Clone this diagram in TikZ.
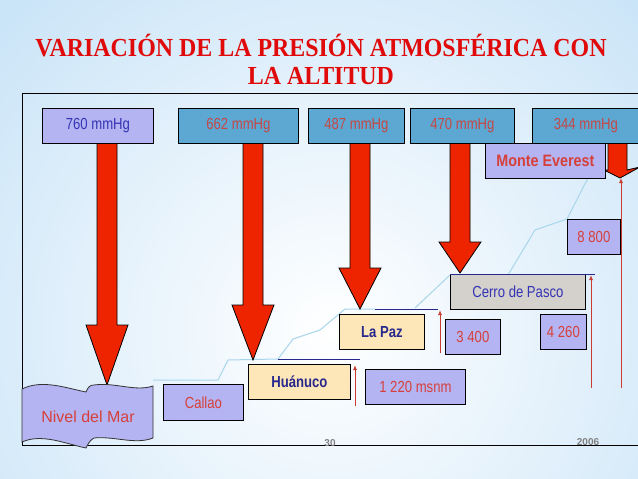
\documentclass[tikz,border=0pt]{standalone}
\usepackage{fontspec}
\setmainfont{Liberation Sans}
\newfontfamily\narrowfont{Liberation Sans}[FakeStretch=0.82]
\newfontfamily\semifont{Liberation Sans}[FakeStretch=0.87]
\newfontfamily\titlefont{Liberation Serif}[FakeStretch=0.92]
\usetikzlibrary{arrows.meta}
\definecolor{bgblue}{RGB}{162,208,242}
\definecolor{titlered}{RGB}{224,10,10}
\definecolor{lav}{RGB}{180,180,242}
\definecolor{steel}{RGB}{92,168,210}
\definecolor{peach}{RGB}{253,231,184}
\definecolor{cerrogray}{RGB}{212,208,204}
\definecolor{txtred}{RGB}{214,64,58}
\definecolor{mutedred}{RGB}{196,72,70}
\definecolor{txtblue}{RGB}{52,52,180}
\definecolor{darkblue}{RGB}{40,40,140}
\definecolor{arrowred}{RGB}{238,36,0}
\definecolor{thinred}{RGB}{200,60,50}
\definecolor{mount}{RGB}{168,214,236}
\definecolor{labgray}{RGB}{128,128,128}
\tikzset{
  titlestyle/.style={font=\titlefont\bfseries\fontsize{26}{30}\selectfont, text=titlered, inner sep=0pt},
  boxstyle/.style={draw=black, line width=0.8pt, anchor=north west, inner sep=0pt, minimum height=35pt, font=\narrowfont\fontsize{16}{18}\selectfont},
  lavbox/.style={boxstyle, fill=lav},
  steelbox/.style={boxstyle, fill=steel, text=mutedred},
  peachbox/.style={boxstyle, fill=peach, text=darkblue, font=\narrowfont\bfseries\fontsize{16}{18}\selectfont},
  bigarrow/.style={fill=arrowred, draw=black, line width=0.8pt, line join=miter},
  thinarrow/.style={draw=thinred, line width=0.9pt, -{Latex[length=5pt,width=4pt]}},
  mountline/.style={draw=mount, line width=1pt},
  levelline/.style={draw=darkblue, line width=1pt},
  smalllab/.style={text=labgray, font=\bfseries\fontsize{10}{11}\selectfont, inner sep=0pt}
}
\begin{document}
\begin{tikzpicture}[x=1pt,y=-1pt]
\useasboundingbox (0,0) rectangle (638,479);
\clip (0,0) rectangle (638,479);
\shade[inner color=white, outer color=bgblue] (-470,-470) rectangle (1130,1130);

% title
\node[titlestyle] (t1) at (321,46) {VARIACIÓN DE LA PRESIÓN ATMOSFÉRICA CON};
\node[titlestyle] (t2) at (321,76) {LA ALTITUD};

% frame
\draw[line width=1pt] (22,93) rectangle (700,445);

% mountain profile
\draw[mountline] (153,380) -- (218,380) -- (228,360) -- (278,359) -- (293,339) -- (320,330) -- (345,309) -- (375,309);
\draw[mountline] (415,308) -- (450,275);
\draw[mountline] (508,275) -- (535,230) -- (567,219) -- (588,178);

% big arrows
\draw[bigarrow] (97,143) -- (117,143) -- (117,325) -- (128,325) -- (107,385) -- (86,325) -- (97,325) -- cycle;
\draw[bigarrow] (243,143) -- (263,143) -- (263,305) -- (274,305) -- (253,360) -- (232,305) -- (243,305) -- cycle;
\draw[bigarrow] (350,143) -- (370,143) -- (370,268) -- (381,268) -- (360,309) -- (339,268) -- (350,268) -- cycle;
\draw[bigarrow] (450,143) -- (470,143) -- (470,242) -- (481,242) -- (460,273) -- (439,242) -- (450,242) -- cycle;
\draw[bigarrow] (608,143) -- (627,143) -- (627,170) -- (640,167) -- (620,178) -- (604,170) -- (608,170) -- cycle;

% top pressure boxes
\node[lavbox, text=txtblue, minimum width=111pt] (p760) at (42,108) {760 mmHg};
\node[steelbox, minimum width=120pt] (p662) at (178,108) {662 mmHg};
\node[steelbox, minimum width=96pt] (p487) at (308,108) {487 mmHg};
\node[steelbox, minimum width=104pt] (p470) at (410,108) {470 mmHg};
\node[steelbox, minimum width=107pt] (p344) at (532,108) {344 mmHg};

% places and heights
\node[lavbox, text=txtred, minimum width=120pt, font=\semifont\bfseries\fontsize{16.5}{18}\selectfont] (everest) at (485,143) {Monte Everest};
\node[lavbox, text=txtred, minimum width=53pt] (h8800) at (567,219) {8 800};
\node[boxstyle, fill=cerrogray, text=txtblue, minimum width=135pt] (cerro) at (450,274) {Cerro de Pasco};
\node[peachbox, minimum width=85pt] (lapaz) at (339,314) {La Paz};
\node[lavbox, text=txtred, minimum width=55pt] (h3400) at (445,319) {3 400};
\node[lavbox, text=txtred, minimum width=46pt] (h4260) at (540,314) {4 260};
\node[peachbox, minimum width=102pt] (huanuco) at (248,364) {Huánuco};
\node[lavbox, text=txtred, minimum width=100pt] (h1220) at (365,369) {1 220 msnm};
\node[lavbox, text=txtred, minimum width=80pt, minimum height=36pt] (callao) at (163,384) {Callao};

% level lines
\draw[levelline] (278,359) -- (360,359);
\draw[levelline] (375,309) -- (438,309);
\draw[levelline] (cerro.north west) -- (595,274);

% thin arrows
\coordinate (a1s) at (355,406); \coordinate (a1e) at (355,365);
\coordinate (a2s) at (440,353); \coordinate (a2e) at (440,310);
\coordinate (a3s) at (591,388); \coordinate (a3e) at (591,275);
\coordinate (a4s) at (621,388); \coordinate (a4e) at (621,178);
\draw[thinarrow] (a1s) -- (a1e);
\draw[thinarrow] (a2s) -- (a2e);
\draw[thinarrow] (a3s) -- (a3e);
\draw[thinarrow] (a4s) -- (a4e);

% sea level banner
\draw[fill=lav, draw=black!80, line width=0.8pt]
  (22,389) .. controls (42,379) and (66,388) .. (86,392)
  .. controls (88,387) and (90,385) .. (94,385)
  .. controls (115,382) and (135,392) .. (153,386)
  -- (153,438)
  .. controls (135,445) and (115,436) .. (94,438)
  .. controls (90,440) and (88,444) .. (86,448)
  .. controls (66,444) and (42,433) .. (22,442) -- cycle;
\node[text=txtred, font=\fontsize{16}{18}\selectfont, inner sep=0pt] (nivel) at (88,417) {Nivel del Mar};

% axis labels
\node[smalllab] (l30) at (330,443) {30};
\node[smalllab] (l2006) at (588,442) {2006};
\end{tikzpicture}
\end{document}
